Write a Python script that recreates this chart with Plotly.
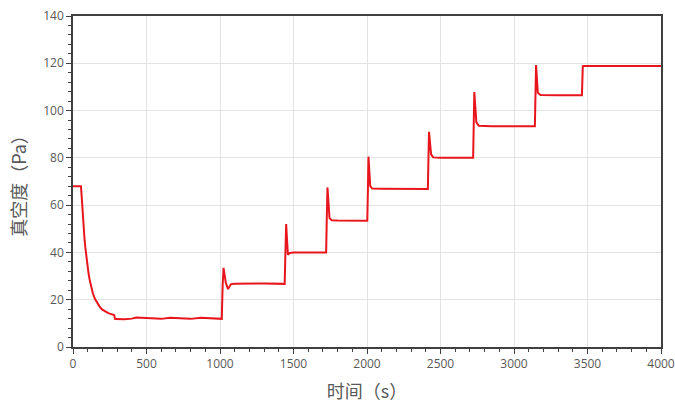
import plotly.graph_objects as go

time_s = [0, 54, 57, 60, 64, 68, 73, 78, 84, 90, 97, 105, 113, 122, 136, 150, 165, 180, 197,
          220, 240, 260, 280, 286, 292,
          350, 400, 430, 500, 600, 660, 750, 800, 870, 950, 1012,
          1018, 1024, 1040, 1055, 1075, 1100, 1300, 1440,
          1445, 1450, 1462, 1475, 1500, 1600, 1722,
          1726, 1731, 1745, 1760, 1800, 1900, 2002,
          2006, 2010, 2022, 2035, 2100, 2300, 2414,
          2418, 2422, 2436, 2450, 2500, 2600, 2722,
          2726, 2730, 2744, 2760, 2850, 3000, 3142,
          3146, 3150, 3162, 3180, 3300, 3462,
          3468, 3480, 3700, 4000]
pressure_pa = [68, 68, 65.5, 62, 58, 54.5, 50, 46, 42, 38.5, 35, 31.5, 28.5, 26, 22.5, 20.3, 18.6, 17.2, 15.9,
               14.9, 14.3, 13.9, 13.5, 11.9, 11.8,
               11.7, 12.0, 12.5, 12.2, 11.9, 12.4, 12.0, 11.9, 12.4, 12.1, 11.9,
               26, 33.5, 27, 24.5, 26.6, 26.8, 26.9, 26.7,
               40, 52, 39, 39.8, 40.0, 40.1, 40.0,
               53, 67.5, 54.5, 53.6, 53.5, 53.6, 53.4,
               66, 80.5, 68, 67.0, 66.9, 66.8, 66.8,
               80, 91, 81.5, 80.2, 80.0, 80.1, 80.0,
               94, 107.8, 95, 93.6, 93.4, 93.5, 93.4,
               106, 119.3, 107.5, 106.6, 106.5, 106.5,
               118.8, 118.9, 118.9, 118.9]

x_ticks = [0, 500, 1000, 1500, 2000, 2500, 3000, 3500, 4000]
y_ticks = [0, 20, 40, 60, 80, 100, 120, 140]

fig = go.Figure()
fig.add_trace(go.Scatter(x=time_s, y=pressure_pa, mode="lines",
                         line=dict(color="#e8161c", width=2), showlegend=False))

axis_common = dict(
    showline=True, linecolor="#404040", linewidth=1.5, mirror=True,
    ticks="outside", ticklen=5, tickwidth=1, tickcolor="#404040",
    showgrid=True, gridcolor="#e3e3e3", gridwidth=1, zeroline=False,
    automargin=False,
    tickfont=dict(family="Open Sans, sans-serif", size=12, color="#595959"),
)
fig.update_xaxes(range=[0, 4000], tickvals=x_ticks,
                 minor=dict(dtick=100, ticks="outside", ticklen=3, tickcolor="#404040", showgrid=False),
                 title=dict(text="时间（s）", standoff=14,
                            font=dict(family="Noto Sans CJK SC", size=18, color="#595959")),
                 **axis_common)
fig.update_yaxes(range=[0, 140], tickvals=y_ticks,
                 minor=dict(dtick=4, ticks="outside", ticklen=3, tickcolor="#404040", showgrid=False),
                 title=dict(text="真空度（Pa）", standoff=12,
                            font=dict(family="Noto Sans CJK SC", size=18, color="#595959")),
                 **axis_common)
fig.update_layout(width=675, height=403, margin=dict(l=73, r=14, t=16, b=56),
                  plot_bgcolor="white", paper_bgcolor="white")
fig.write_html("out.html")
